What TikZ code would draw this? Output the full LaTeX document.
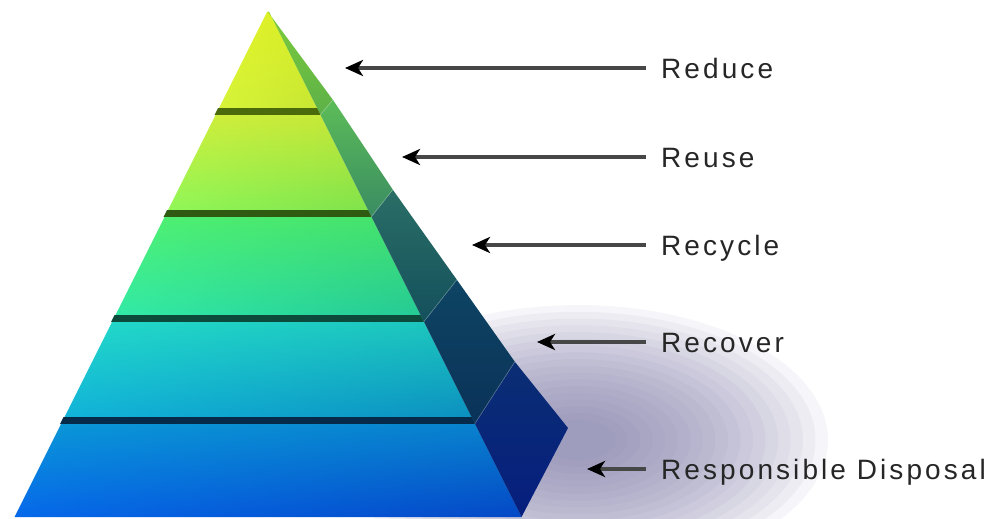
\documentclass[tikz,border=0pt]{standalone}
\usepackage{fontspec}
\usetikzlibrary{arrows.meta,shadings}
\newfontfamily\labelfont{Liberation Sans}[LetterSpace=11]

% front faces (four corners), side faces (top/bottom), dark bevels
\definecolor{f1ul}{HTML}{E4F52A}\definecolor{f1ur}{HTML}{D8EC25}
\definecolor{f1ll}{HTML}{D6F43A}\definecolor{f1lr}{HTML}{C6E634}
\definecolor{f2ul}{HTML}{D2F03C}\definecolor{f2ur}{HTML}{C4E636}
\definecolor{f2ll}{HTML}{8CF85A}\definecolor{f2lr}{HTML}{7AE24C}
\definecolor{f3ul}{HTML}{50F272}\definecolor{f3ur}{HTML}{44E06A}
\definecolor{f3ll}{HTML}{30EAAA}\definecolor{f3lr}{HTML}{22C898}
\definecolor{f4ul}{HTML}{22DACA}\definecolor{f4ur}{HTML}{1CC4BC}
\definecolor{f4ll}{HTML}{10B0DA}\definecolor{f4lr}{HTML}{0A8CC0}
\definecolor{f5ul}{HTML}{0A98D8}\definecolor{f5ur}{HTML}{0880CC}
\definecolor{f5ll}{HTML}{0668EA}\definecolor{f5lr}{HTML}{0448C6}
\definecolor{s1t}{HTML}{7CCC3C}\definecolor{s1b}{HTML}{5CB048}
\definecolor{s2t}{HTML}{5CBC58}\definecolor{s2b}{HTML}{3A8C62}
\definecolor{s3t}{HTML}{2A6E66}\definecolor{s3b}{HTML}{14505C}
\definecolor{s4t}{HTML}{0E4464}\definecolor{s4b}{HTML}{0A3258}
\definecolor{s5t}{HTML}{0A2E74}\definecolor{s5b}{HTML}{061E7E}
\definecolor{band1}{HTML}{4A6A0C}\definecolor{band2}{HTML}{2E5A12}
\definecolor{band3}{HTML}{0C4A3C}\definecolor{band4}{HTML}{062A4A}
\definecolor{shadowc}{HTML}{7C78A4}

\tikzstyle{steplabel} = [anchor=west, inner sep=0pt, text height=20pt, text depth=0pt, font=\labelfont\fontsize{28}{30}\selectfont, text=black!85]
\tikzstyle{pointer} = [line width=3.5pt, black!72, -{Stealth[length=18pt,width=16pt,inset=5pt,black]}, shorten <=15pt]

\begin{document}
\begin{tikzpicture}[x=1pt,y=-1pt]
\useasboundingbox (0,0) rectangle (990,519);
% soft shadow behind the pyramid
\foreach \r in {1,0.95,...,0.1}
	\fill[shadowc, opacity=0.07] (578,440) ellipse [x radius=\r*250pt, y radius=\r*135pt];

% tiers: number / top y / bottom y / back corner at top / back corner at bottom
\foreach \i/\yt/\yb/\bxt/\byt/\bxb/\byb in {1/12/115/268/12/333/100, 2/115/217/333/100/393/190, 3/217/322/393/190/457/280, 4/322/424/457/280/515/362, 5/424/517/515/362/568/428} {
	\pgfmathsetmacro\xlt{267-0.5*(\yt-12)}
	\pgfmathsetmacro\xlb{267-0.5*(\yb-12)}
	\pgfmathsetmacro\xft{269+0.5*(\yt-12)}
	\pgfmathsetmacro\xfb{269+0.5*(\yb-12)}
	\shade[upper left=f\i ul, upper right=f\i ur, lower left=f\i ll, lower right=f\i lr]
		(\xlt,\yt) -- (\xft,\yt) -- (\xfb,\yb) -- (\xlb,\yb) -- cycle;
	\shade[top color=s\i t, bottom color=s\i b]
		(\xft,\yt) -- (\bxt,\byt) -- (\bxb,\byb) -- (\xfb,\yb) -- cycle;
	\ifnum\i<5
		\pgfmathsetmacro\xlm{267-0.5*(\yb-19)}
		\pgfmathsetmacro\xfm{269+0.5*(\yb-19)}
		\fill[band\i] (\xlm-1,\yb-7) -- (\xfm,\yb-7) -- (\xfb,\yb) -- (\xlb-1,\yb) -- cycle;
		\draw[white, opacity=.35, line width=1.2pt] (\xfb,\yb) -- (\bxb,\byb);
	\fi
}

% labels and arrows
\foreach \i/\ly/\tx/\word in {1/68/345/Reduce, 2/157/402/Reuse, 3/245/472/Recycle, 4/342/537/Recover, 5/469/587/Responsible Disposal} {
	\coordinate (tip\i) at (\tx,\ly);
	\node[steplabel] (step\i) at (661,\ly) {\word};
	\draw[pointer] (step\i.west) -- (tip\i);
}
\end{tikzpicture}
\end{document}
